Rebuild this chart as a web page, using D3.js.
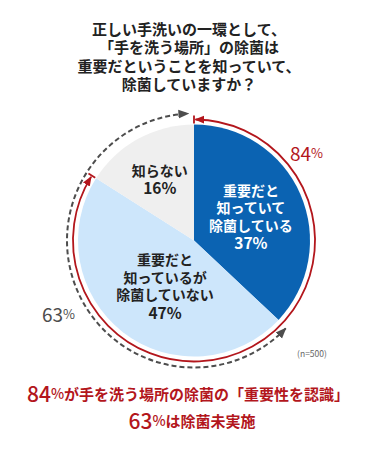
<!DOCTYPE html>
<html><head><meta charset="utf-8">
<script src="https://cdn.jsdelivr.net/npm/d3@7"></script>
<style>body{margin:0;background:#fff}svg{display:block}text{font-family:"Noto Sans CJK JP","Noto Sans",sans-serif}</style>
</head><body><svg id="c" width="378" height="450"></svg>
<script>
const titleLines = ["正しい手洗いの一環として、","「手を洗う場所」の除菌は","重要だということを知っていて、","除菌していますか？"];
const categories = [["重要だと","知っていて","除菌している"],["重要だと","知っているが","除菌していない"],["知らない"]];
const values = [37, 47, 16];
const colors = ["#0b63b2", "#cde6fb", "#efefef"];
const textColors = ["#ffffff", "#222222", "#222222"];
const recognizedPct = 84;
const notDonePct = 63;
const sampleNote = "(n=500)";
const summaryLine1 = ["84", "%", "が手を洗う場所の除菌の「重要性を認識」"];
const summaryLine2 = ["63", "%", "は除菌未実施"];

const svg = d3.select("#c");
const cx = 194, cy = 240.5, R = 116, rRed = 121, rDash = 127;
const red = "#b3161c", grey = "#4d4d4d";

// title
svg.append("g").selectAll("text").data(titleLines).join("text")
  .attr("x", 189).attr("y", (d,i)=>28 + i*18.5)
  .attr("text-anchor","middle").attr("dominant-baseline","central")
  .attr("font-size",15).attr("font-weight",700).attr("fill","#222").text(d=>d);

const g = svg.append("g").attr("transform",`translate(${cx},${cy})`);
const pie = d3.pie().sort(null).value(d=>d);
const arcs = pie(values);
const arc = d3.arc().innerRadius(0).outerRadius(R);
g.selectAll("path.s").data(arcs).join("path").attr("class","s")
  .attr("d",arc).attr("fill",(d,i)=>colors[i]);

// markers
const defs = svg.append("defs");
function marker(id, col){
  defs.append("marker").attr("id",id).attr("viewBox","0 0 10 10").attr("refX",9).attr("refY",5)
    .attr("markerWidth",5.5).attr("markerHeight",5.5).attr("markerUnits","strokeWidth")
    .attr("orient","auto-start-reverse")
    .append("path").attr("d","M0,1 L10,5 L0,9 Z").attr("fill",col);
}
marker("mr", red); marker("mg", grey);

function arcPath(r, a0, a1){
  const p = d3.path();
  p.arc(0,0,r,a0-Math.PI/2,a1-Math.PI/2,false);
  return p.toString();
}
// red arc: recognized (slices 0+1)
const redStart = arcs[0].startAngle, redEnd = arcs[1].endAngle;
g.append("path").attr("d",arcPath(rRed, redStart+0.012, redEnd-0.012))
  .attr("fill","none").attr("stroke",red).attr("stroke-width",1.8)
  .attr("marker-start","url(#mr)").attr("marker-end","url(#mr)");
[redStart, redEnd].forEach(a=>{
  g.append("line")
    .attr("x1",(rRed-4)*Math.sin(a)).attr("y1",-(rRed-4)*Math.cos(a))
    .attr("x2",(rRed+4)*Math.sin(a)).attr("y2",-(rRed+4)*Math.cos(a))
    .attr("stroke",red).attr("stroke-width",1.8);
});
// dashed arc: not done (slices 1+2)
const dStart = arcs[1].startAngle, dEnd = arcs[2].endAngle;
g.append("path").attr("d",arcPath(rDash, dStart+0.01, dEnd-0.045))
  .attr("fill","none").attr("stroke",grey).attr("stroke-width",2)
  .attr("stroke-dasharray","5,3")
  .attr("marker-start","url(#mg)").attr("marker-end","url(#mg)");

// slice labels
const labelR = [62, 57, 71];
const lineH = 17.5;
arcs.forEach((d,i)=>{
  const c = d3.arc().innerRadius(labelR[i]).outerRadius(labelR[i]).centroid(d);
  const lines = categories[i].concat([values[i] + "%"]);
  const n = lines.length;
  lines.forEach((ln,j)=>{
    g.append("text").attr("text-anchor","middle").attr("font-weight",700)
      .attr("fill",textColors[i])
      .attr("x",c[0] + (i===1?6:0)).attr("y",c[1] + (j-(n-1)/2)*lineH)
      .attr("dominant-baseline","central")
      .attr("font-size", j===n-1 ? 15.5 : 14).text(ln);
  });
});

// outside percentages
const t84 = svg.append("text").attr("x",290).attr("y",152).attr("dominant-baseline","central").attr("fill",red);
t84.append("tspan").attr("font-size",19).text(recognizedPct);
t84.append("tspan").attr("font-size",13).text("%");
const t63 = svg.append("text").attr("x",42).attr("y",313).attr("dominant-baseline","central").attr("fill",grey);
t63.append("tspan").attr("font-size",19).text(notDonePct);
t63.append("tspan").attr("font-size",13).text("%");

svg.append("text").attr("x",312).attr("y",353).attr("text-anchor","middle").attr("dominant-baseline","central")
  .attr("font-size",8.5).attr("fill","#666").text(sampleNote);

// summary
function summary(parts, x, y){
  const t = svg.append("text").attr("x",x).attr("y",y).attr("text-anchor","middle")
    .attr("dominant-baseline","central").attr("fill",red).attr("font-weight",500);
  t.append("tspan").attr("font-size",21).text(parts[0]);
  t.append("tspan").attr("font-size",14).text(parts[1]);
  t.append("tspan").attr("font-size",15).attr("font-weight",700).text(parts[2]);
}
summary(summaryLine1, 188, 393);
summary(summaryLine2, 192, 420);
</script></body></html>
